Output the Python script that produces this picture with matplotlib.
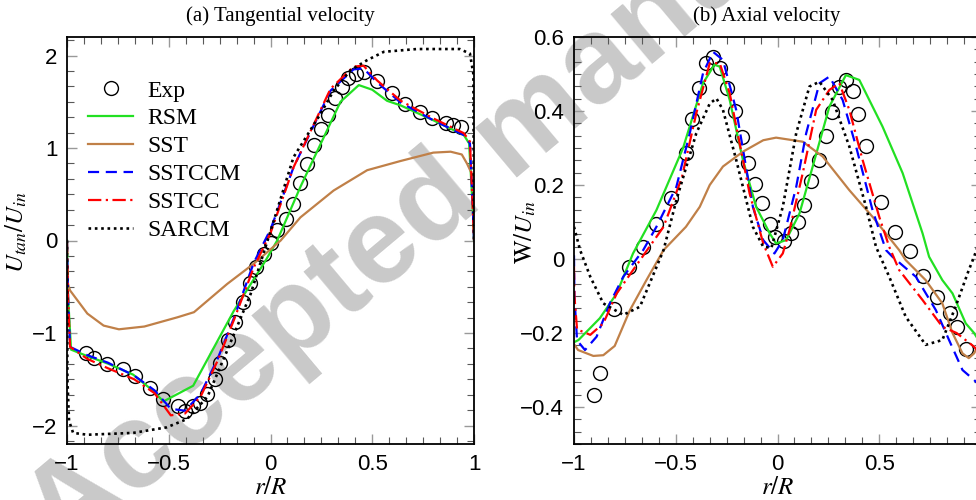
import matplotlib
matplotlib.use('Agg')
import matplotlib.pyplot as plt
from matplotlib.ticker import MultipleLocator, AutoMinorLocator, FuncFormatter

plt.rcParams['mathtext.fontset'] = 'stix'

# (a) tangential velocity
exp_r_a = [-0.907, -0.866, -0.802, -0.727, -0.668, -0.59, -0.53, -0.456, -0.418, -0.382,
           -0.346, -0.311, -0.275, -0.25, -0.21, -0.172, -0.136, -0.103, -0.07, -0.033,
           0.0, 0.033, 0.074, 0.11, 0.147, 0.18, 0.213, 0.246, 0.283, 0.316,
           0.352, 0.382, 0.418, 0.459, 0.524, 0.598, 0.66, 0.734, 0.795, 0.86, 0.898, 0.934]
exp_u_a = [-1.22, -1.27, -1.33, -1.39, -1.47, -1.59, -1.71, -1.79, -1.84, -1.79,
           -1.76, -1.66, -1.50, -1.32, -1.08, -0.88, -0.67, -0.46, -0.29, -0.15,
           -0.03, 0.11, 0.23, 0.40, 0.62, 0.83, 1.03, 1.21, 1.36, 1.54,
           1.66, 1.76, 1.80, 1.82, 1.72, 1.59, 1.48, 1.39, 1.32, 1.27, 1.25, 1.23]

rsm_r_a = [-1.0, -0.995, -0.98, -0.9, -0.8, -0.675, -0.58, -0.526, -0.38, -0.18, -0.025,
           0.033, 0.147, 0.344, 0.434, 0.50, 0.573, 0.64, 0.80, 0.95, 0.976, 0.995, 1.0]
rsm_u_a = [0.0, -0.6, -1.18, -1.25, -1.33, -1.45, -1.62, -1.74, -1.57, -0.76, -0.22,
           0.0, 0.58, 1.50, 1.68, 1.63, 1.51, 1.46, 1.30, 1.14, 1.05, 0.3, 0.0]

sst_r_a = [-0.998, -0.985, -0.9, -0.82, -0.745, -0.62, -0.457, -0.376, -0.213, -0.082,
           -0.016, 0.05, 0.147, 0.31, 0.475, 0.64, 0.80, 0.885, 0.94, 0.966, 0.998, 1.0]
sst_u_a = [-0.45, -0.54, -0.79, -0.92, -0.96, -0.93, -0.83, -0.775, -0.47, -0.25,
           -0.126, 0.0, 0.25, 0.54, 0.76, 0.86, 0.95, 0.96, 0.93, 0.83, 0.68, 0.0]

cc_r_a = [-1.0, -0.995, -0.985, -0.9, -0.8, -0.67, -0.57, -0.49, -0.42, -0.344, -0.26,
          -0.18, -0.082, 0.0, 0.113, 0.295, 0.408, 0.457, 0.524, 0.64, 0.80, 0.95,
          0.98, 0.995, 1.0]
sstccm_u_a = [0.0, -0.6, -1.15, -1.24, -1.32, -1.46, -1.62, -1.82, -1.84, -1.66, -1.28,
              -0.84, -0.24, 0.12, 0.79, 1.62, 1.85, 1.86, 1.71, 1.49, 1.30, 1.14,
              1.05, 0.3, 0.0]
sstcc_u_a = [0.0, -0.6, -1.15, -1.28, -1.38, -1.50, -1.65, -1.89, -1.87, -1.69, -1.30,
             -0.86, -0.29, 0.08, 0.79, 1.64, 1.88, 1.89, 1.73, 1.51, 1.32, 1.16,
             1.07, 0.3, 0.0]

sarcm_r_a = [-1.0, -0.998, -0.99, -0.97, -0.9, -0.675, -0.51, -0.41, -0.31, -0.213,
             -0.098, 0.0, 0.113, 0.246, 0.31, 0.393, 0.475, 0.557, 0.72, 0.93, 0.98,
             0.997, 1.0]
sarcm_u_a = [0.0, -1.5, -1.95, -2.08, -2.1, -2.08, -2.02, -1.93, -1.69, -1.19,
             -0.58, 0.1, 0.90, 1.37, 1.62, 1.84, 1.95, 2.04, 2.07, 2.07, 2.02,
             1.80, 0.0]

# (b) axial velocity
exp_r_b = [-0.902, -0.873, -0.804, -0.728, -0.660, -0.595, -0.525, -0.451, -0.42, -0.387,
           -0.353, -0.317, -0.284, -0.246, -0.211, -0.175, -0.146, -0.113, -0.075, -0.039,
           -0.01, 0.031, 0.067, 0.10, 0.132, 0.165, 0.202, 0.238, 0.268, 0.30,
           0.336, 0.369, 0.398, 0.434, 0.508, 0.578, 0.65, 0.713, 0.786, 0.85, 0.884, 0.925]
exp_w_b = [-0.368, -0.307, -0.135, -0.022, 0.033, 0.095, 0.164, 0.286, 0.378, 0.461,
           0.531, 0.545, 0.517, 0.461, 0.40, 0.33, 0.259, 0.203, 0.152, 0.095,
           0.059, 0.05, 0.071, 0.10, 0.146, 0.212, 0.268, 0.332, 0.398, 0.464,
           0.484, 0.455, 0.392, 0.306, 0.153, 0.072, 0.022, -0.045, -0.102, -0.147, -0.183, -0.244]

rsm_r_b = [-1.0, -0.978, -0.873, -0.79, -0.71, -0.595, -0.464, -0.366, -0.31, -0.284,
           -0.235, -0.17, -0.105, -0.039, -0.007, 0.042, 0.108, 0.173, 0.255, 0.336,
           0.402, 0.516, 0.615, 0.713, 0.745, 0.81, 0.86, 0.925, 0.966, 1.0]
rsm_w_b = [-0.225, -0.219, -0.16, -0.093, 0.015, 0.132, 0.30, 0.475, 0.525, 0.52,
           0.43, 0.268, 0.141, 0.07, 0.042, 0.051, 0.123, 0.25, 0.412, 0.497,
           0.484, 0.358, 0.232, 0.069, 0.006, -0.057, -0.093, -0.174, -0.20, -0.23]

sst_r_b = [-1.0, -0.98, -0.905, -0.856, -0.80, -0.725, -0.644, -0.56, -0.45, -0.382,
           -0.333, -0.268, -0.17, -0.07, -0.007, 0.124, 0.222, 0.353, 0.467, 0.598,
           0.63, 0.728, 0.81, 0.86, 0.909, 0.94, 0.966, 1.0]
sst_w_b = [-0.23, -0.246, -0.262, -0.26, -0.235, -0.138, -0.057, 0.024, 0.087, 0.141,
           0.20, 0.25, 0.29, 0.321, 0.328, 0.317, 0.277, 0.186, 0.114, 0.024,
           -0.003, -0.057, -0.12, -0.20, -0.255, -0.268, -0.255, -0.22]

sstccm_r_b = [-1.0, -0.998, -0.985, -0.946, -0.889, -0.824, -0.758, -0.66, -0.595, -0.497,
              -0.431, -0.366, -0.317, -0.268, -0.203, -0.121, -0.07, -0.015, 0.026, 0.092,
              0.141, 0.206, 0.255, 0.32, 0.386, 0.467, 0.533, 0.565, 0.68, 0.778,
              0.843, 0.909, 0.966, 1.0]
sstccm_w_b = [0.01, -0.1, -0.22, -0.246, -0.21, -0.12, -0.048, 0.024, 0.087, 0.195,
              0.34, 0.502, 0.56, 0.538, 0.403, 0.141, 0.051, 0.015, 0.051, 0.195,
              0.34, 0.475, 0.493, 0.43, 0.304, 0.132, 0.024, 0.006, -0.048, -0.138,
              -0.219, -0.30, -0.327, -0.345]

sstcc_r_b = [-1.0, -0.998, -0.985, -0.92, -0.856, -0.79, -0.71, -0.56, -0.47, -0.399,
             -0.333, -0.284, -0.235, -0.137, -0.07, -0.023, 0.026, 0.059, 0.124, 0.19,
             0.255, 0.304, 0.353, 0.418, 0.50, 0.549, 0.598, 0.713, 0.81, 0.88,
             0.966, 1.0]
sstcc_w_b = [-0.02, -0.1, -0.19, -0.205, -0.174, -0.093, -0.03, 0.087, 0.22, 0.394,
             0.529, 0.529, 0.448, 0.177, 0.042, -0.021, 0.015, 0.078, 0.232, 0.403,
             0.457, 0.475, 0.403, 0.268, 0.114, 0.033, -0.03, -0.111, -0.183, -0.20,
             -0.237, -0.26]

sarcm_r_b = [-1.0, -0.97, -0.92, -0.856, -0.758, -0.676, -0.56, -0.497, -0.399, -0.333,
             -0.30, -0.268, -0.203, -0.121, -0.07, -0.03, 0.026, 0.092, 0.157, 0.206,
             0.271, 0.353, 0.435, 0.484, 0.549, 0.63, 0.728, 0.81, 0.875, 0.94,
             0.966, 1.0]
sarcm_w_b = [0.087, 0.024, -0.048, -0.12, -0.151, -0.129, 0.024, 0.159, 0.34, 0.42,
             0.434, 0.403, 0.268, 0.087, 0.033, 0.03, 0.141, 0.34, 0.466, 0.479,
             0.43, 0.304, 0.141, 0.033, -0.048, -0.156, -0.232, -0.219, -0.129, -0.03,
             0.006, 0.06]

green = '#22e022'
brown = '#c08048'
serif = 'Liberation Serif'
sans = 'Liberation Sans'


def fmt(v, pos):
    s = '%g' % round(v, 3)
    return s.replace('-', '\u2212')


def fmt_cut(v, pos):
    # the right end of panel (b) falls outside the picture
    if v > 0.99:
        return ''
    return fmt(v, pos)


def style_axis(ax, ylim, ymajor, xfmt):
    ax.set_facecolor('none')
    ax.set_xlim(-1, 1)
    ax.set_ylim(*ylim)
    ax.xaxis.set_major_locator(MultipleLocator(0.5))
    ax.yaxis.set_major_locator(MultipleLocator(ymajor))
    ax.xaxis.set_minor_locator(AutoMinorLocator(6))
    ax.yaxis.set_minor_locator(AutoMinorLocator(6))
    ax.xaxis.set_major_formatter(FuncFormatter(xfmt))
    ax.yaxis.set_major_formatter(FuncFormatter(fmt))
    ax.tick_params(which='both', direction='in', top=True, right=True)
    ax.tick_params(which='major', length=7, width=1.0, color='0.6', pad=7,
                   labelsize=16, labelcolor='black')
    ax.tick_params(which='minor', length=5, width=0.8, color='0.35')
    for lab in ax.get_xticklabels() + ax.get_yticklabels():
        lab.set_fontfamily(sans)
    for sp in ax.spines.values():
        sp.set_linewidth(1.3)


fig = plt.figure(figsize=(9.76, 5.0), dpi=100)

# watermark behind the plots
fig.text(0.065, -0.115, 'Accepted manuscript', rotation=40, rotation_mode='anchor',
         ha='left', va='baseline', fontsize=88, fontweight='bold',
         color='#c9c9c9', family=sans, zorder=-5)

ax1 = fig.add_axes([67 / 976, 56 / 500, 407 / 976, 407 / 500])
ax2 = fig.add_axes([574 / 976, 56 / 500, 407 / 976, 407 / 500])

lw = 1.6
ax1.plot(exp_r_a, exp_u_a, 'o', ms=10, mfc='none', mec='black', mew=1.0, label='Exp')
ax1.plot(rsm_r_a, rsm_u_a, '-', color=green, lw=lw, label='RSM')
ax1.plot(sst_r_a, sst_u_a, '-', color=brown, lw=lw, label='SST')
ax1.plot(cc_r_a, sstccm_u_a, '--', color='blue', lw=lw, dashes=(5, 3), label='SSTCCM')
ax1.plot(cc_r_a, sstcc_u_a, '-.', color='red', lw=lw, dashes=(6, 2, 1, 2), label='SSTCC')
ax1.plot(sarcm_r_a, sarcm_u_a, ':', color='black', lw=lw + 0.3, dashes=(1, 1.4),
         label='SARCM')
style_axis(ax1, (-2.2, 2.2), 1, fmt)

ax2.plot(exp_r_b, exp_w_b, 'o', ms=10, mfc='none', mec='black', mew=1.0)
ax2.plot(rsm_r_b, rsm_w_b, '-', color=green, lw=lw)
ax2.plot(sst_r_b, sst_w_b, '-', color=brown, lw=lw)
ax2.plot(sstccm_r_b, sstccm_w_b, '--', color='blue', lw=lw, dashes=(5, 3))
ax2.plot(sstcc_r_b, sstcc_w_b, '-.', color='red', lw=lw, dashes=(6, 2, 1, 2))
ax2.plot(sarcm_r_b, sarcm_w_b, ':', color='black', lw=lw + 0.3, dashes=(1, 1.4))
style_axis(ax2, (-0.5, 0.6), 0.2, fmt_cut)

ax1.legend(loc='upper left', bbox_to_anchor=(0.012, 0.935), frameon=False,
           prop={'family': serif, 'size': 17}, handlelength=1.9,
           handletextpad=0.6, labelspacing=0.27, borderaxespad=0.3)

fig.text(280 / 976, 1 - 16 / 500, '(a) Tangential velocity', ha='center', va='center',
         family=serif, fontsize=15)
fig.text(767 / 976, 1 - 16 / 500, '(b) Axial velocity', ha='center', va='center',
         family=serif, fontsize=15)

ax1.set_xlabel(r'$r/R$', fontsize=18, labelpad=0)
ax2.set_xlabel(r'$r/R$', fontsize=18, labelpad=0)
ax1.set_ylabel(r'$U_{tan}/U_{in}$', fontsize=18)
ax2.set_ylabel(r'$\mathrm{W}/U_{in}$', fontsize=18)
ax1.yaxis.set_label_coords(-0.093, 0.52)
ax2.yaxis.set_label_coords(-0.088, 0.52)

fig.savefig('out.png', dpi=100)
